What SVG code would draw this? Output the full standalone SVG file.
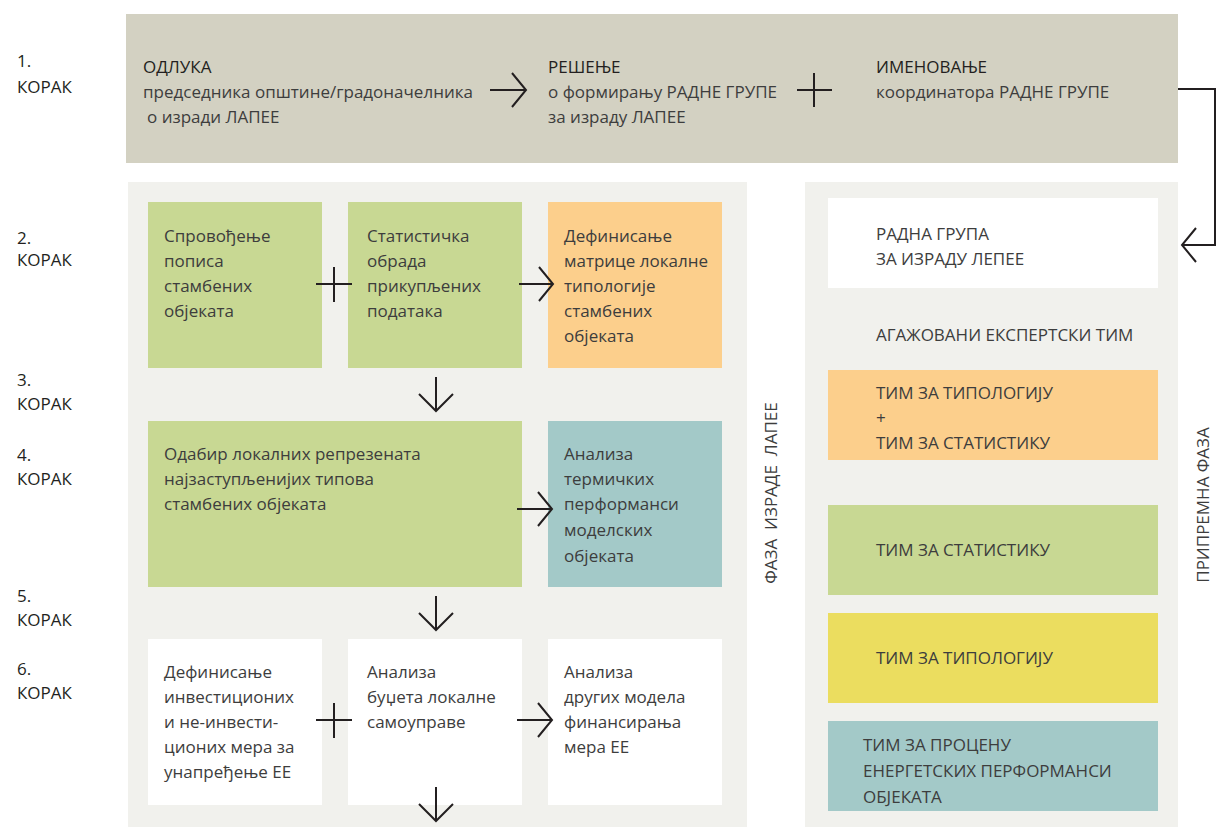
<svg xmlns="http://www.w3.org/2000/svg" width="1216" height="827" viewBox="0 0 1216 827">
<defs>
<style>
text{font-family:"Open Sans","Noto Sans",sans-serif;font-size:17px;fill:#3d3d3d;}
.h{fill:#231f20;font-weight:500;}
.step{fill:#231f20;}
.ln{stroke:#231f20;stroke-width:2;fill:none;}
</style>
</defs>
<rect width="1216" height="827" fill="#ffffff"/>
<g id="steps">
<text class="step" x="17" y="67">1.</text><text class="step" x="17" y="93">КОРАК</text>
<text class="step" x="17" y="244">2.</text><text class="step" x="17" y="266">КОРАК</text>
<text class="step" x="17" y="386">3.</text><text class="step" x="17" y="410">КОРАК</text>
<text class="step" x="17" y="461">4.</text><text class="step" x="17" y="485">КОРАК</text>
<text class="step" x="17" y="602">5.</text><text class="step" x="17" y="626">КОРАК</text>
<text class="step" x="17" y="675">6.</text><text class="step" x="17" y="699">КОРАК</text>
</g>
<g id="band">
<rect x="126" y="14" width="1052" height="149" fill="#d3d1c2"/>
</g>
<g id="odluka">
<text class="h" x="143" y="73">ОДЛУКА</text>
<text x="143" y="98">председника општине/градоначелника</text>
<text x="147" y="123">о изради ЛАПЕЕ</text>
</g>
<g id="resenje">
<text class="h" x="548" y="73">РЕШЕЊЕ</text>
<text x="548" y="98">о формирању РАДНЕ ГРУПЕ</text>
<text x="548" y="123">за израду ЛАПЕЕ</text>
</g>
<g id="imenovanje">
<text class="h" x="876" y="73">ИМЕНОВАЊЕ</text>
<text x="876" y="98">координатора РАДНЕ ГРУПЕ</text>
</g>
<g id="panel-left"><rect x="128" y="182" width="619" height="645" fill="#f1f1ed"/></g>
<g id="panel-right"><rect x="805" y="182" width="373" height="645" fill="#f1f1ed"/></g>
<g id="n1"><rect x="148" y="202" width="174" height="166" fill="#c8d893"/>
<text x="164" y="242">Спровођење</text><text x="164" y="267">пописа</text><text x="164" y="292">стамбених</text><text x="164" y="317">објеката</text></g>
<g id="n2"><rect x="348" y="202" width="174" height="166" fill="#c8d893"/>
<text x="367" y="242">Статистичка</text><text x="367" y="267">обрада</text><text x="367" y="292">прикупљених</text><text x="367" y="317">података</text></g>
<g id="n3"><rect x="548" y="202" width="174" height="166" fill="#fccf8c"/>
<text x="564" y="242">Дефинисање</text><text x="564" y="267">матрице локалне</text><text x="564" y="292">типологије</text><text x="564" y="317">стамбених</text><text x="564" y="342">објеката</text></g>
<g id="n4"><rect x="148" y="421" width="374" height="166" fill="#c8d893"/>
<text x="164" y="460">Одабир локалних репрезената</text><text x="164" y="485">најзаступљенијих типова</text><text x="164" y="510">стамбених објеката</text></g>
<g id="n5"><rect x="548" y="421" width="174" height="166" fill="#a3c9c8"/>
<text x="564" y="460">Анализа</text><text x="564" y="485">термичких</text><text x="564" y="510">перформанси</text><text x="564" y="536">моделских</text><text x="564" y="562">објеката</text></g>
<g id="n6"><rect x="148" y="639" width="174" height="166" fill="#ffffff"/>
<text x="164" y="678">Дефинисање</text><text x="164" y="703">инвестиционих</text><text x="164" y="728">и не-инвести-</text><text x="164" y="753">ционих мера за</text><text x="164" y="778">унапређење ЕЕ</text></g>
<g id="n7"><rect x="348" y="639" width="174" height="166" fill="#ffffff"/>
<text x="367" y="678">Анализа</text><text x="367" y="703">буџета локалне</text><text x="367" y="728">самоуправе</text></g>
<g id="n8"><rect x="548" y="639" width="174" height="166" fill="#ffffff"/>
<text x="564" y="678">Анализа</text><text x="564" y="703">других модела</text><text x="564" y="728">финансирања</text><text x="564" y="753">мера ЕЕ</text></g>
<g id="faza-izrade"><text x="0" y="0" transform="translate(777 493) rotate(-90)" text-anchor="middle" xml:space="preserve">ФАЗА  ИЗРАДЕ  ЛАПЕЕ</text></g>
<g id="pripremna"><text x="0" y="0" transform="translate(1209 505) rotate(-90)" text-anchor="middle">ПРИПРЕМНА ФАЗА</text></g>
<g id="radna-grupa"><rect x="828" y="198" width="330" height="90" fill="#ffffff"/>
<text x="876" y="240">РАДНА ГРУПА</text><text x="876" y="265">ЗА ИЗРАДУ ЛЕПЕЕ</text></g>
<g id="ekspertski"><text x="876" y="341">АГАЖОВАНИ ЕКСПЕРТСКИ ТИМ</text></g>
<g id="tim-tip-stat"><rect x="828" y="370" width="330" height="90" fill="#fccf8c"/>
<text x="876" y="399">ТИМ ЗА ТИПОЛОГИЈУ</text><text x="876" y="424">+</text><text x="876" y="449">ТИМ ЗА СТАТИСТИКУ</text></g>
<g id="tim-stat"><rect x="828" y="505" width="330" height="90" fill="#c8d893"/>
<text x="876" y="556">ТИМ ЗА СТАТИСТИКУ</text></g>
<g id="tim-tip"><rect x="828" y="613" width="330" height="90" fill="#ebdd5f"/>
<text x="876" y="664">ТИМ ЗА ТИПОЛОГИЈУ</text></g>
<g id="tim-procena"><rect x="828" y="721" width="330" height="90" fill="#a3c9c8"/>
<text x="863" y="751">ТИМ ЗА ПРОЦЕНУ</text><text x="863" y="777">ЕНЕРГЕТСКИХ ПЕРФОРМАНСИ</text><text x="863" y="803">ОБЈЕКАТА</text></g>
<g id="connectors" class="ln">
<path d="M490 90H526M512 73L526 90L512 107"/>
<path d="M797 90H832M814 73V107"/>
<path d="M1178 89H1215V245H1182M1196 228L1182 245L1196 262"/>
<path d="M316 284H352M334 267V302"/>
<path d="M519 284H553M539 267L553 284L539 301"/>
<path d="M436 377V411M419 394L436 411L453 394"/>
<path d="M517 509H552M538 492L552 509L538 526"/>
<path d="M436 596V630M419 613L436 630L453 613"/>
<path d="M316 720H352M334 703V738"/>
<path d="M517 720H552M538 703L552 720L538 737"/>
<path d="M436 787V821M419 804L436 821L453 804"/>
</g>
</svg>
